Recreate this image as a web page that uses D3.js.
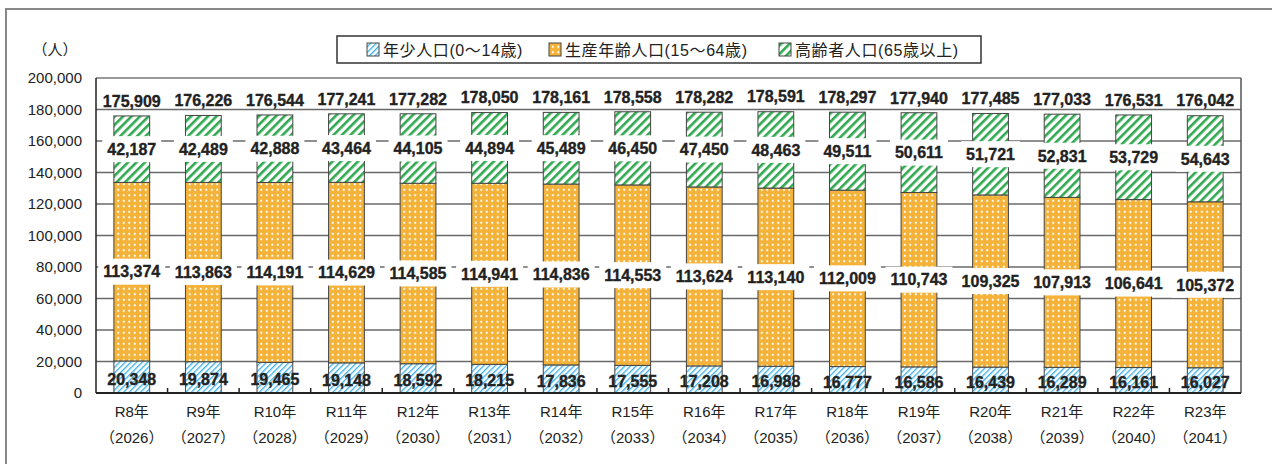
<!DOCTYPE html>
<html>
<head>
<meta charset="utf-8">
<script src="https://cdn.jsdelivr.net/npm/d3@7"></script>
<style>
  html, body { margin: 0; padding: 0; background: #fff; }
  svg { display: block; }
  text { font-family: "Liberation Sans", "Noto Sans CJK JP", sans-serif; fill: #222; }
  .val { font-size: 16px; font-weight: bold; stroke: #222; stroke-width: 0.35px; }
</style>
</head>
<body>
<svg id="chart" width="1272" height="464"></svg>
<script>
// data
const eraLabels  = ["R8年","R9年","R10年","R11年","R12年","R13年","R14年","R15年","R16年","R17年","R18年","R19年","R20年","R21年","R22年","R23年"];
const yearLabels = ["（2026）","（2027）","（2028）","（2029）","（2030）","（2031）","（2032）","（2033）","（2034）","（2035）","（2036）","（2037）","（2038）","（2039）","（2040）","（2041）"];
const young   = [20348, 19874, 19465, 19148, 18592, 18215, 17836, 17555, 17208, 16988, 16777, 16586, 16439, 16289, 16161, 16027];
const working = [113374, 113863, 114191, 114629, 114585, 114941, 114836, 114553, 113624, 113140, 112009, 110743, 109325, 107913, 106641, 105372];
const elderly = [42187, 42489, 42888, 43464, 44105, 44894, 45489, 46450, 47450, 48463, 49511, 50611, 51721, 52831, 53729, 54643];
const totals  = [175909, 176226, 176544, 177241, 177282, 178050, 178161, 178558, 178282, 178591, 178297, 177940, 177485, 177033, 176531, 176042];
const yTicks  = [0, 20000, 40000, 60000, 80000, 100000, 120000, 140000, 160000, 180000, 200000];
const seriesNames = ["年少人口(0～14歳)", "生産年齢人口(15～64歳)", "高齢者人口(65歳以上)"];

const svg = d3.select("#chart");
const plotL = 96, plotR = 1241, plotT = 78, plotB = 393;

// patterns
const defs = svg.append("defs");
let p = defs.append("pattern").attr("id","pBlue").attr("patternUnits","userSpaceOnUse")
  .attr("width",4).attr("height",4).attr("patternTransform","rotate(45)");
p.append("rect").attr("width",4).attr("height",4).attr("fill","#fff");
p.append("rect").attr("width",1.4).attr("height",4).attr("fill","#45b2e4");

p = defs.append("pattern").attr("id","pOrange").attr("patternUnits","userSpaceOnUse")
  .attr("width",5.5).attr("height",5.5);
p.append("rect").attr("width",5.5).attr("height",5.5).attr("fill","#f4b238");
p.append("circle").attr("cx",2.75).attr("cy",2.75).attr("r",1.1).attr("fill","#fff");

p = defs.append("pattern").attr("id","pGreen").attr("patternUnits","userSpaceOnUse")
  .attr("width",6).attr("height",6).attr("patternTransform","rotate(45)");
p.append("rect").attr("width",6).attr("height",6).attr("fill","#fff");
p.append("rect").attr("width",2.6).attr("height",6).attr("fill","#2fa84f");

const fills = ["url(#pBlue)", "url(#pOrange)", "url(#pGreen)"];

// outer frame
svg.append("rect").attr("x",6).attr("y",9).attr("width",1300).attr("height",500)
  .attr("fill","none").attr("stroke","#888").attr("stroke-width",2);

const x = d3.scaleBand().domain(d3.range(eraLabels.length)).range([plotL, plotR]).paddingInner(0.5).paddingOuter(0.25);
const y = d3.scaleLinear().domain([0, 200000]).range([plotB, plotT]);

// gridlines
svg.append("g").selectAll("line").data(yTicks.filter(d => d > 0 && d < 200000)).join("line")
  .attr("x1", plotL).attr("x2", plotR).attr("y1", d => y(d)).attr("y2", d => y(d))
  .attr("stroke", "#6a6a6a").attr("stroke-width", 1.3);

// y tick labels
svg.append("g").selectAll("text").data(yTicks).join("text")
  .attr("x", 82).attr("y", d => y(d)).attr("dy", "0.36em").attr("text-anchor","end")
  .attr("font-size", 15).text(d => d3.format(",")(d));

svg.append("text").attr("x", 55).attr("y", 55).attr("text-anchor","middle")
  .attr("font-size", 15).text("（人）");

// stacked bars
const rows = young.map((v, i) => ({i, y0: v, y1: working[i], y2: elderly[i]}));
const stack = d3.stack().keys(["y0","y1","y2"])(rows);
const barG = svg.append("g");
stack.forEach((s, k) => {
  barG.append("g").selectAll("rect").data(s).join("rect")
    .attr("x", d => x(d.data.i)).attr("width", x.bandwidth())
    .attr("y", d => y(d[1])).attr("height", d => y(d[0]) - y(d[1]))
    .attr("fill", fills[k]).attr("stroke", "#444").attr("stroke-width", 1);
});

// plot frame
svg.append("line").attr("x1", plotL).attr("x2", plotR).attr("y1", plotT).attr("y2", plotT)
  .attr("stroke","#777").attr("stroke-width",1.5);
svg.append("line").attr("x1", plotR).attr("x2", plotR).attr("y1", plotT).attr("y2", plotB)
  .attr("stroke","#555").attr("stroke-width",1.5);

// white boxed labels for working and elderly segments
const cx = i => x(i) + x.bandwidth() / 2;
function boxedLabels(series, values) {
  const g = svg.append("g");
  series.forEach((d, i) => {
    const my = (y(d[0]) + y(d[1])) / 2;
    const t = g.append("text").attr("class","val").attr("x", cx(i)).attr("y", my).attr("dy","0.36em")
      .attr("text-anchor","middle")
      .text(d3.format(",")(values[i]));
    const w = t.node().getComputedTextLength() + 10;
    g.insert("rect", "text").attr("x", cx(i) - w / 2).attr("y", my - 13).attr("width", w).attr("height", 26)
      .attr("fill","#fff");
  });
}
boxedLabels(stack[1], working);
boxedLabels(stack[2], elderly);

// young labels
svg.append("g").selectAll("text").data(stack[0]).join("text").attr("class","val")
  .attr("x", (d, i) => cx(i)).attr("y", d => (y(d[0]) + y(d[1])) / 2 + 2).attr("dy","0.36em")
  .attr("text-anchor","middle")
  .text((d, i) => d3.format(",")(young[i]));

// totals
svg.append("g").selectAll("text").data(totals).join("text").attr("class","val")
  .attr("x", (d, i) => cx(i)).attr("y", d => y(d) - 15).attr("dy","0.36em")
  .attr("text-anchor","middle")
  .text(d => d3.format(",")(d));

// axes
svg.append("line").attr("x1", plotL).attr("x2", plotL).attr("y1", plotT).attr("y2", plotB)
  .attr("stroke","#222").attr("stroke-width",1.5);
svg.append("line").attr("x1", plotL).attr("x2", plotR).attr("y1", plotB).attr("y2", plotB)
  .attr("stroke","#222").attr("stroke-width",2);
const step = (plotR - plotL) / eraLabels.length;
svg.append("g").selectAll("line").data(d3.range(1, eraLabels.length)).join("line")
  .attr("x1", d => plotL + d * step).attr("x2", d => plotL + d * step)
  .attr("y1", plotB).attr("y2", plotB - 5).attr("stroke","#222").attr("stroke-width",1.5);

// x labels
svg.append("g").selectAll("text").data(eraLabels).join("text")
  .attr("x", (d, i) => cx(i)).attr("y", 417).attr("text-anchor","middle").attr("font-size",15).text(d => d);
svg.append("g").selectAll("text").data(yearLabels).join("text")
  .attr("x", (d, i) => cx(i)).attr("y", 443).attr("text-anchor","middle").attr("font-size",15).text(d => d);

// legend
svg.append("rect").attr("x",337).attr("y",36).attr("width",644).attr("height",27)
  .attr("fill","#fff").attr("stroke","#333").attr("stroke-width",1.5);
const legX = [367, 549, 779];
seriesNames.forEach((n, k) => {
  svg.append("rect").attr("x", legX[k]).attr("y", 43).attr("width", 12).attr("height", 13)
    .attr("fill", fills[k]).attr("stroke","#444").attr("stroke-width",1);
  svg.append("text").attr("x", legX[k] + 16).attr("y", 55.5).attr("font-size", 16)
    .attr("letter-spacing", 0.6).text(n);
});
</script>
</body>
</html>
